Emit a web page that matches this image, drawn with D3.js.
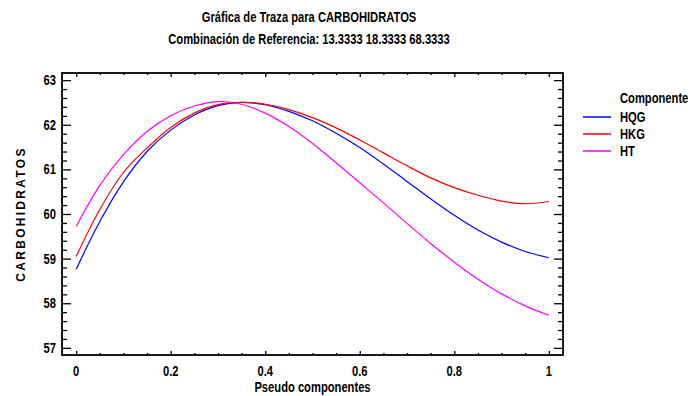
<!DOCTYPE html>
<html>
<head>
<meta charset="utf-8">
<script src="https://cdn.jsdelivr.net/npm/d3@7"></script>
<style>
  body { margin: 0; background: #fff; }
  text { font-family: "Liberation Sans", Arial, sans-serif; font-weight: bold; fill: #000; }
</style>
</head>
<body>
<div id="chart"></div>
<script>
// values
var pseudo = [0, 0.05, 0.1, 0.15, 0.2, 0.25, 0.3, 0.35, 0.4, 0.45, 0.5,
              0.55, 0.6, 0.65, 0.7, 0.75, 0.8, 0.85, 0.9, 0.95, 1];
var hqg = [58.76, 59.83, 60.72, 61.40, 61.88, 62.22, 62.43, 62.50, 62.45, 62.30, 62.09,
           61.81, 61.49, 61.12, 60.73, 60.34, 59.97, 59.64, 59.37, 59.16, 59.02];
var hkg = [59.05, 60.10, 60.93, 61.48, 61.94, 62.26, 62.45, 62.50, 62.46, 62.34, 62.16,
           61.93, 61.66, 61.37, 61.08, 60.81, 60.59, 60.42, 60.29, 60.23, 60.28];
var ht  = [59.72, 60.64, 61.33, 61.85, 62.20, 62.42, 62.52, 62.46, 62.26, 61.96, 61.58,
           61.15, 60.70, 60.25, 59.79, 59.34, 58.92, 58.54, 58.21, 57.94, 57.73];
var componentes = ['HQG', 'HKG', 'HT'];
var colores = ['#0000ff', '#ff0000', '#ff00ff'];
var xTicks = [0, 0.2, 0.4, 0.6, 0.8, 1];
var yTicks = [57, 58, 59, 60, 61, 62, 63];

var W = 693, H = 396;
var margin = {top: 73, right: 130, bottom: 41, left: 62};
var width = W - margin.left - margin.right;
var height = H - margin.top - margin.bottom;

var svg = d3.select("#chart")
            .append("svg")
              .attr("width", W)
              .attr("height", H);

var g = svg.append("g")
           .attr("transform", "translate(" + margin.left + "," + margin.top + ")");

var x = d3.scaleLinear().domain([-0.03, 1.03]).range([0, width]);
var y = d3.scaleLinear().domain([56.84, 63.16]).range([height, 0]);

// narrow bold text: no condensed font installed, so squeeze it horizontally
function narrow(sel, px, py) {
  return sel.attr("transform", "translate(" + px + "," + py + ") scale(0.8,1)")
            .style("font-size", "14px");
}

// minor tick values
var xMinor = d3.range(0, 1.0001, 0.05).filter(function(d) { return Math.abs(d * 5 - Math.round(d * 5)) > 1e-6; });
var yMinor = d3.range(57, 63.0001, 0.2).filter(function(d) { return Math.abs(d - Math.round(d)) > 1e-6; });

// axes, ticks drawn inside the frame
g.append("g")
  .attr("transform", "translate(0," + height + ")")
  .call(d3.axisTop(x).tickValues(xTicks).tickSize(4).tickFormat(""));
g.append("g")
  .attr("transform", "translate(0," + height + ")")
  .call(d3.axisTop(x).tickValues(xMinor).tickSize(2).tickFormat(""));
g.append("g")
  .call(d3.axisBottom(x).tickValues(xTicks).tickSize(4).tickFormat(""));
g.append("g")
  .call(d3.axisBottom(x).tickValues(xMinor).tickSize(2).tickFormat(""));
g.append("g")
  .call(d3.axisRight(y).tickValues(yTicks).tickSize(9).tickFormat(""));
g.append("g")
  .call(d3.axisRight(y).tickValues(yMinor).tickSize(5).tickFormat(""));
g.append("g")
  .attr("transform", "translate(" + width + ",0)")
  .call(d3.axisLeft(y).tickValues(yTicks).tickSize(9).tickFormat(""));
g.append("g")
  .attr("transform", "translate(" + width + ",0)")
  .call(d3.axisLeft(y).tickValues(yMinor).tickSize(5).tickFormat(""));

g.selectAll(".domain").remove();
g.selectAll(".tick line").attr("stroke", "#000").attr("stroke-width", 1.3);

// frame
g.append("rect")
  .attr("width", width)
  .attr("height", height)
  .attr("fill", "none")
  .attr("stroke", "#000")
  .attr("stroke-width", 1.8);

// tick labels
g.selectAll(".xlab")
  .data(xTicks).enter()
  .append("text")
    .each(function(d) { narrow(d3.select(this), x(d), height + 21); })
    .style("text-anchor", "middle")
    .text(function(d) { return d3.format("")(d); });

g.selectAll(".ylab")
  .data(yTicks).enter()
  .append("text")
    .each(function(d) { narrow(d3.select(this), -6, y(d)); })
    .attr("dy", "0.36em")
    .style("text-anchor", "end")
    .text(function(d) { return d; });

// the three traces
var series = [hqg, hkg, ht];
var line = d3.line()
             .x(function(d, i) { return x(pseudo[i]); })
             .y(function(d) { return y(d); })
             .curve(d3.curveCatmullRom);

g.selectAll(".traza")
  .data(series).enter()
  .append("path")
    .attr("d", line)
    .attr("fill", "none")
    .attr("stroke", function(d, i) { return colores[i]; })
    .attr("stroke-width", 1.2);

// titles
narrow(svg.append("text"), 309, 22)
  .style("text-anchor", "middle")
  .text("Gráfica de Traza para CARBOHIDRATOS");
narrow(svg.append("text"), 309, 44)
  .style("text-anchor", "middle")
  .text("Combinación de Referencia: 13.3333 18.3333 68.3333");

narrow(svg.append("text"), margin.left + width / 2, 392)
  .style("text-anchor", "middle")
  .text("Pseudo componentes");

svg.append("text")
  .attr("transform", "translate(25," + (margin.top + height / 2) + ") rotate(-90)")
  .style("text-anchor", "middle")
  .style("font-size", "12px")
  .style("letter-spacing", "2.3px")
  .text("CARBOHIDRATOS");

// legend
var legend = svg.append("g").attr("transform", "translate(583,0)");
narrow(legend.append("text"), 37, 103)
  .text("Componente");
legend.selectAll(".item")
  .data(componentes).enter()
  .append("g")
    .attr("transform", function(d, i) { return "translate(0," + (117 + i * 17) + ")"; })
    .each(function(d, i) {
      d3.select(this).append("line")
        .attr("x1", 0).attr("x2", 28)
        .attr("stroke", colores[i])
        .attr("stroke-width", 1.5);
      narrow(d3.select(this).append("text"), 37, 5)
        .text(d);
    });
</script>
</body>
</html>
